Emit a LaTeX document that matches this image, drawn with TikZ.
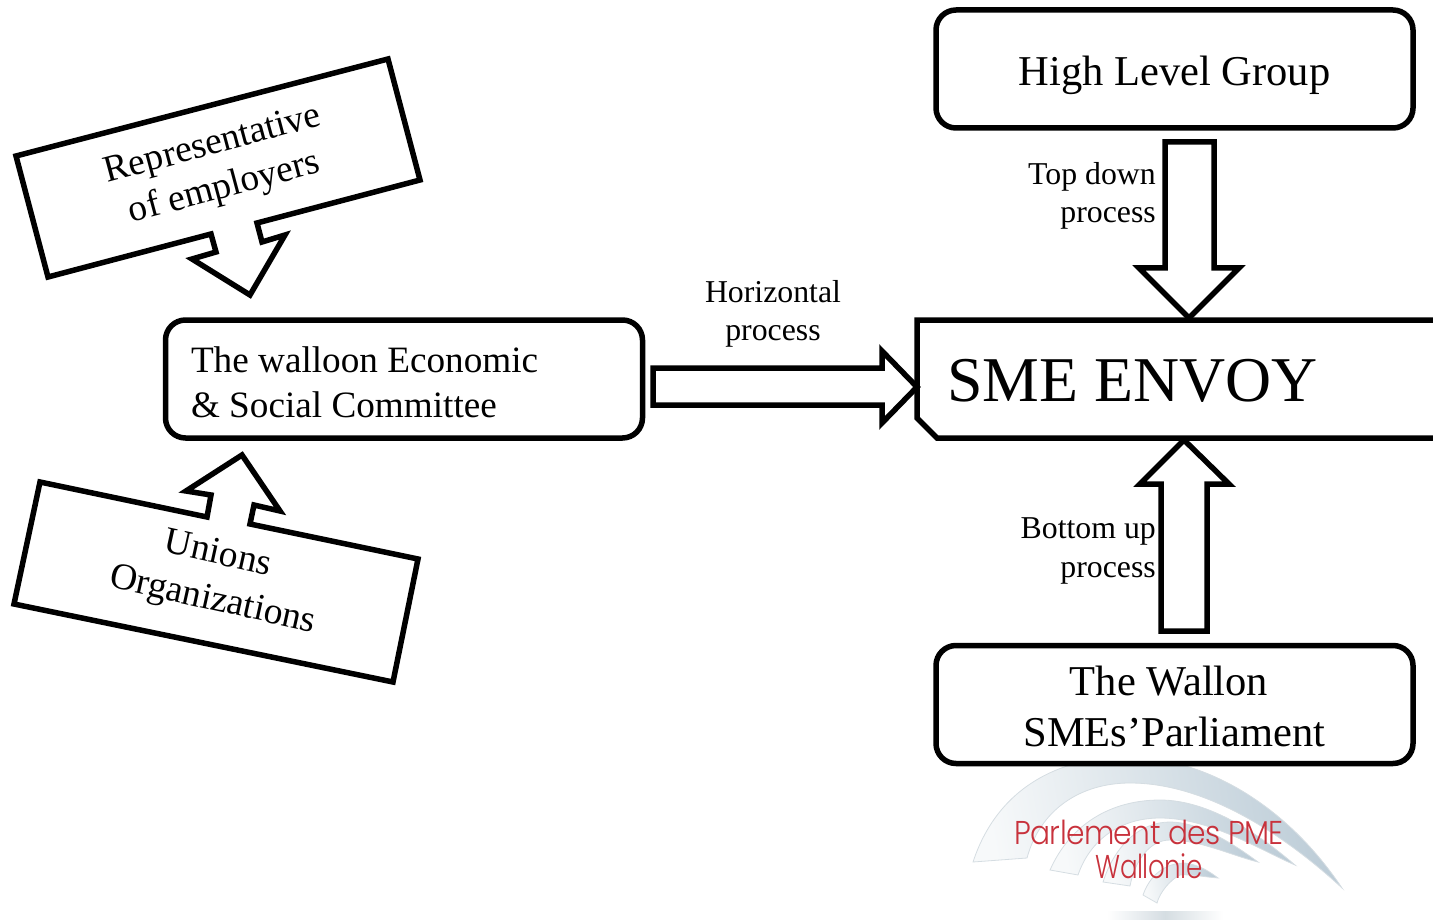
\documentclass[tikz,border=0pt]{standalone}
\usepackage{fontspec}
\setmainfont{Liberation Serif}
\newfontfamily\logofont{Poppins Light}
\definecolor{logored}{HTML}{C8323C}
\definecolor{logoblue}{HTML}{BCCCD7}
\definecolor{logoline}{HTML}{D5DDE2}
\definecolor{logopale}{HTML}{F7F9FA}
\newcommand{\fs}[2]{\fontsize{#1}{#2}\selectfont}
\tikzset{
  x=1pt,y=-1pt,
  heavy/.style={draw=black,line width=5.5pt,fill=white,line join=round},
  roundbox/.style={heavy,rounded corners=20pt,minimum width=477pt,minimum height=118pt,inner sep=0pt,align=center},
  lab/.style={inner sep=0pt,text=black},
  band/.style={draw=logoline,line width=.8pt,left color=logopale,middle color=logopale,right color=logoblue,shading angle=100},
  logotext/.style={lab,text=logored,font=\logofont\fs{33}{33}\addfontfeature{LetterSpace=-2},xscale=.9},
}
\begin{document}
\begin{tikzpicture}
\clip (0,0) rectangle (1433,920);
% logo
\path[band] (973,862) .. controls (1000,780) and (1070,757) .. (1125,757) .. controls (1210,757) and (1290,810) .. (1342,888) .. controls (1290,840) and (1210,783) .. (1130,783) .. controls (1080,783) and (1040,810) .. (1027,858) -- cycle;
\path[band] (1050,870) .. controls (1070,825) and (1110,800) .. (1160,800) .. controls (1210,800) and (1260,835) .. (1295,865) .. controls (1260,850) and (1210,818) .. (1160,818) .. controls (1120,818) and (1090,840) .. (1078,875) -- cycle;
\path[band] (1103,882) .. controls (1115,845) and (1140,822) .. (1170,822) .. controls (1200,822) and (1235,845) .. (1258,862) .. controls (1230,855) and (1200,840) .. (1170,840) .. controls (1150,840) and (1135,860) .. (1130,886) -- cycle;
\path[band] (1143,895) .. controls (1150,875) and (1165,863) .. (1185,863) .. controls (1200,865) and (1210,872) .. (1218,878) .. controls (1205,877) and (1190,874) .. (1180,875) .. controls (1170,880) and (1160,892) .. (1157,903) -- cycle;
\fill[left color=white,right color=white,middle color=logoline] (1107,911) rectangle (1223,920);
\node[logotext] (logoa) at (1149,832) {Parlement des PME};
\node[logotext,xscale=.88] (logob) at (1149,866) {Wallonie};
% boxes
\node[roundbox] (hlg) at (1174.5,69) {\raisebox{-6pt}[\height][\depth]{\fs{42.5}{51}High Level Group}};
\node[roundbox] (wec) at (404,379) {\raisebox{-3pt}[\height][\depth]{\begin{minipage}{426pt}\fs{37.2}{45}The walloon Economic\\\& Social Committee\end{minipage}}};
\node[roundbox] (parl) at (1174.5,704.5) {\raisebox{-2pt}[\height][\depth]{\begin{minipage}{440pt}\centering\fs{42.5}{51}The Wallon\hspace*{11pt}\mbox{}\\SMEs’Parliament\end{minipage}}};
\draw[heavy,line join=miter] (1445,320) -- (917,320) -- (917,418) -- (937,438) -- (1445,438);
\node[lab,anchor=base west,font=\fs{63.8}{70}] (env) at (947,401) {SME ENVOY};
% block arrows
\draw[heavy,line join=miter] (1165,142) -- (1214,142) -- (1214,268) -- (1239,268) -- (1189,318) -- (1139,268) -- (1165,268) -- cycle;
\draw[heavy,line join=miter] (1161,631) -- (1207,631) -- (1207,484) -- (1229,484) -- (1184,440) -- (1140,484) -- (1161,484) -- cycle;
\draw[heavy,line join=miter] (653,368) -- (882,368) -- (882,351) -- (917,387) -- (882,423) -- (882,405) -- (653,405) -- cycle;
% callouts
\draw[heavy,line join=miter] (16,156) -- (388,59) -- (420,180) -- (257,223) -- (262,242) -- (285,235) -- (250,295) -- (192,259) -- (216,252) -- (211,234) -- (48,277) -- cycle;
\draw[heavy,line join=miter] (40,482) -- (207,517) -- (211,495) -- (186,491) -- (242,455) -- (280,511) -- (254,505) -- (250,524) -- (418,559) -- (393,682) -- (14,604) -- cycle;
\node[lab,rotate=15,align=center,font=\fs{37.5}{45}] (rep) at (219,167.5) {Representative\\of employers};
\begin{scope}[rotate around={0:(0,0)}]
\node[lab,rotate=-12.5,font=\fs{37.5}{46}] (uni) at (217.5,579) {\begin{minipage}{260pt}\centering Unions\hspace*{10pt}\mbox{}\\Organizations\end{minipage}};
\end{scope}
% process labels
\node[lab,align=center,font=\fs{31.8}{38}] (hor) at (773,314) {Horizontal\\process};
\node[lab,align=right,anchor=east,font=\fs{31.8}{38}] (top) at (1156,196) {Top down\\process};
\node[lab,align=right,anchor=east,font=\fs{31.8}{39}] (bot) at (1156,551) {Bottom up\\process};
\end{tikzpicture}
\end{document}
